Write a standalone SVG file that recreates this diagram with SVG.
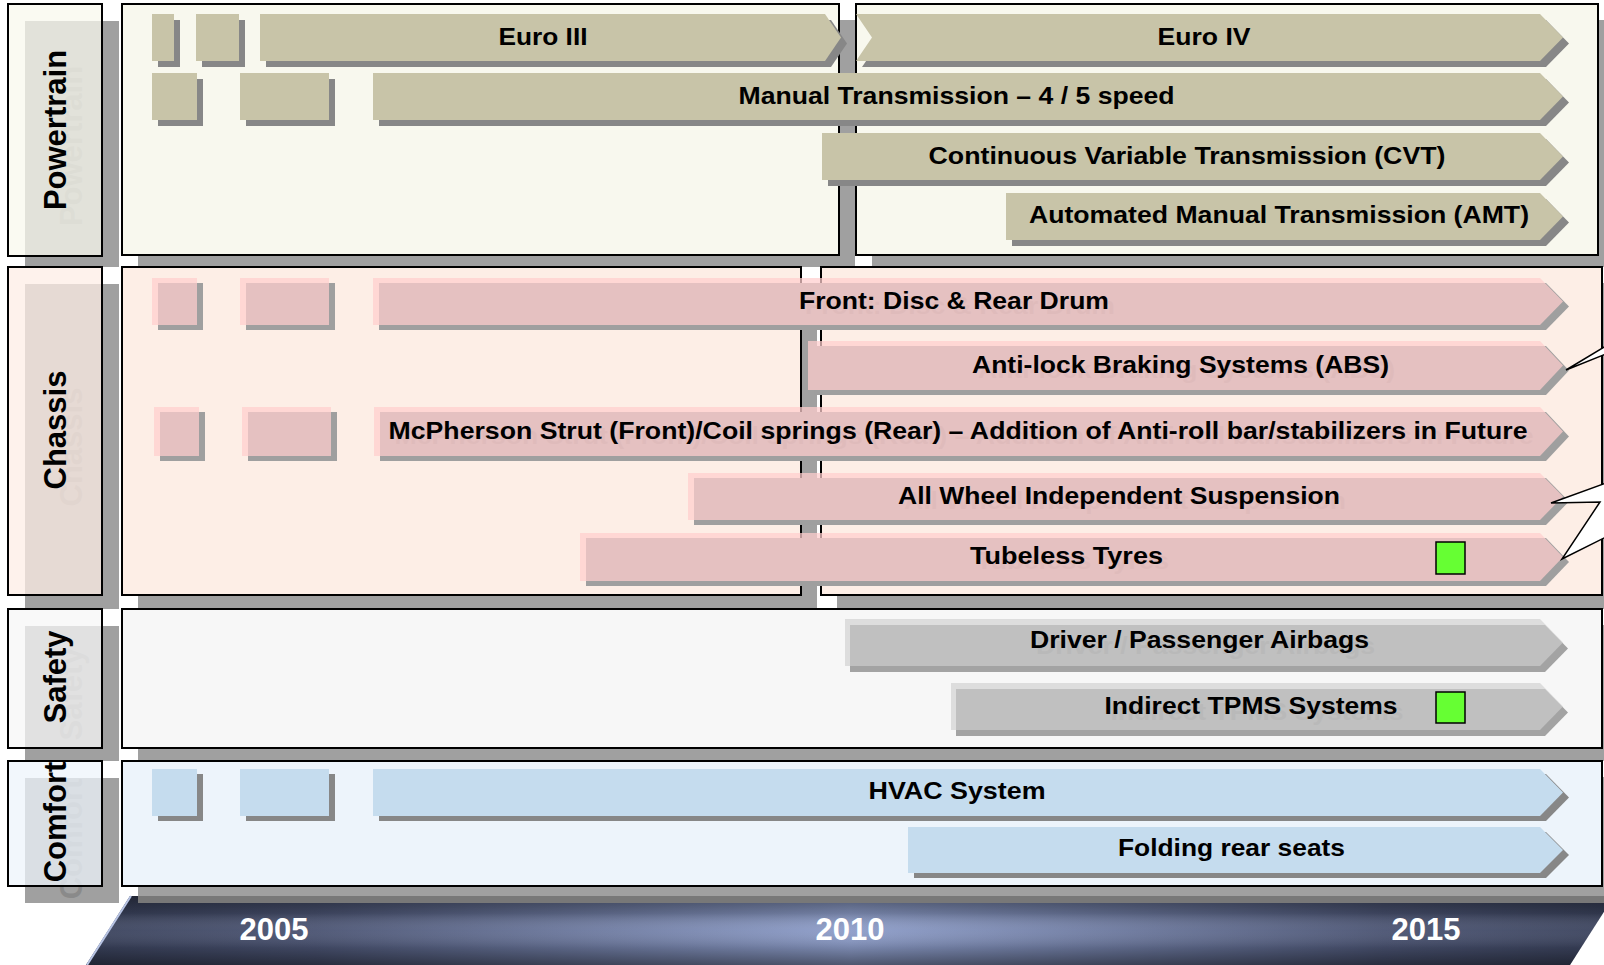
<svg xmlns="http://www.w3.org/2000/svg" width="1604" height="965" viewBox="0 0 1604 965">
  <defs>
    <linearGradient id="tlBase" x1="86" y1="0" x2="1614" y2="0" gradientUnits="userSpaceOnUse">
      <stop offset="0" stop-color="#3a425c"/>
      <stop offset="0.15" stop-color="#4a5372"/>
      <stop offset="0.5" stop-color="#8d9dc9"/>
      <stop offset="0.85" stop-color="#4a5372"/>
      <stop offset="1" stop-color="#3a425c"/>
    </linearGradient>
    <linearGradient id="tlShade" x1="0" y1="896" x2="0" y2="965" gradientUnits="userSpaceOnUse">
      <stop offset="0" stop-color="#000" stop-opacity="0.45"/>
      <stop offset="0.25" stop-color="#000" stop-opacity="0.2"/>
      <stop offset="0.5" stop-color="#fff" stop-opacity="0.05"/>
      <stop offset="0.75" stop-color="#000" stop-opacity="0.15"/>
      <stop offset="1" stop-color="#000" stop-opacity="0.45"/>
    </linearGradient>
  </defs>
  <style>
    text { font-family: "Liberation Sans", Arial, sans-serif; font-weight: bold; }
    .bt { font-size: 24.5px; text-anchor: middle; fill: #000; }
    .lt { font-size: 31px; text-anchor: middle; fill: #000; }
    .yr { font-size: 31px; text-anchor: middle; fill: #fff; }
    .sh { fill: #a0a0a0; }
    .frame { stroke: #000; stroke-width: 2; }
    .p-pt { fill: #f8f8ee; }
    .p-ch { fill: #fdeee6; }
    .p-sf { fill: #f7f7f7; }
    .p-cf { fill: #edf4fb; }
    .lab { fill-opacity: 0.75; }
    .lghost { font-size: 31px; text-anchor: middle; fill: #8a8a8a; }
    /* powertrain bars: solid */
    .b-pt { fill: #c8c4a8; }
    .s-dk { fill: #878787; }
    /* chassis bars: translucent pink */
    .b-ch { fill: #ffcdcd; fill-opacity: 0.73; }
    .s-ch { fill: #9f9f9f; }
    .g-ch { font-size: 24.5px; text-anchor: middle; fill: #8a8a8a; }
    /* safety bars: translucent grey */
    .b-sf { fill: #d0d0d0; fill-opacity: 0.65; }
    .s-sf { fill: #a3a3a3; }
    .g-sf { font-size: 24.5px; text-anchor: middle; fill: #8f8f8f; }
    /* comfort bars: solid */
    .b-cf { fill: #c5dcee; }
    .flag { fill: #66ff33; stroke: #000; stroke-width: 1.5; }
    .callout { fill: #fff; stroke: #000; stroke-width: 1.5; stroke-linejoin: miter; }
  </style>

  <rect width="1604" height="965" fill="#fff"/>

  <!-- timeline band -->
  <g id="timeline">
    <polygon points="130,896 1614,896 1570,965 86,965" fill="url(#tlBase)"/>
    <polygon points="130,896 1614,896 1570,965 86,965" fill="url(#tlShade)"/>
    <line x1="131" y1="896" x2="87" y2="965" stroke="#b8c4e4" stroke-width="2"/>
    <text class="yr" x="274" y="940">2005</text>
    <text class="yr" x="850" y="940">2010</text>
    <text class="yr" x="1426" y="940">2015</text>
  </g>

  <!-- drop shadows of panels and row labels -->
  <g id="shadows">
    <rect class="sh" x="25" y="21" width="94" height="246"/>
    <rect class="sh" x="138" y="20" width="717" height="247"/>
    <rect class="sh" x="872" y="20" width="742" height="247"/>
    <rect class="sh" x="25" y="284" width="94" height="325"/>
    <rect class="sh" x="138" y="283" width="679" height="326"/>
    <rect class="sh" x="837" y="283" width="781" height="326"/>
    <rect class="sh" x="25" y="626" width="94" height="135"/>
    <rect class="sh" x="138" y="625" width="1480" height="136"/>
    <rect class="sh" x="25" y="778" width="94" height="125"/>
    <rect class="sh" x="138" y="777" width="1480" height="119"/>
    <rect x="138" y="896" width="1480" height="7" fill="#787878"/>
  </g>

  <!-- row panels -->
  <g id="panels">
    <rect id="panel-powertrain-a" class="p-pt frame" x="122" y="4" width="717" height="251"/>
    <rect id="panel-powertrain-b" class="p-pt frame" x="856" y="4" width="742" height="251"/>
    <rect id="panel-chassis-a" class="p-ch frame" x="122" y="267" width="679" height="328"/>
    <rect id="panel-chassis-b" class="p-ch frame" x="821" y="267" width="781" height="328"/>
    <rect id="panel-safety" class="p-sf frame" x="122" y="609" width="1480" height="139"/>
    <rect id="panel-comfort" class="p-cf frame" x="122" y="761" width="1480" height="125"/>
  </g>

  <!-- row labels -->
  <g id="label-powertrain">
    <text class="lghost" transform="translate(82,146) rotate(-90)">Powertrain</text>
    <rect class="p-pt lab frame" x="8" y="4" width="94" height="252"/>
    <text class="lt" transform="translate(66,130) rotate(-90)">Powertrain</text>
  </g>
  <g id="label-chassis">
    <text class="lghost" transform="translate(82,447) rotate(-90)">Chassis</text>
    <rect class="p-ch lab frame" x="8" y="267" width="94" height="328"/>
    <text class="lt" transform="translate(66,430) rotate(-90)">Chassis</text>
  </g>
  <g id="label-safety">
    <text class="lghost" transform="translate(82,694) rotate(-90)">Safety</text>
    <rect class="p-sf lab frame" x="8" y="609" width="94" height="139"/>
    <text class="lt" transform="translate(66,677) rotate(-90)">Safety</text>
  </g>
  <g id="label-comfort">
    <text class="lghost" transform="translate(82,839) rotate(-90)">Comfort</text>
    <rect class="p-cf lab frame" x="8" y="761" width="94" height="125"/>
    <text class="lt" transform="translate(66,822) rotate(-90)">Comfort</text>
  </g>

  <!-- powertrain items -->
  <g id="pt-steps-1">
    <rect class="s-dk" x="158" y="20" width="22" height="47"/>
    <rect class="s-dk" x="202" y="20" width="43" height="47"/>
    <rect class="b-pt" x="152" y="14" width="22" height="47"/>
    <rect class="b-pt" x="196" y="14" width="43" height="47"/>
  </g>
  <g id="pt-euro3">
    <path class="s-dk" d="M266 20 H831 L847 43.5 L831 67 H266 Z"/>
    <path class="b-pt" d="M260 14 H825 L841 37.5 L825 61 H260 Z"/>
    <text class="bt" x="543" y="44.5" textLength="89" lengthAdjust="spacingAndGlyphs">Euro III</text>
  </g>
  <g id="pt-euro4">
    <path class="s-dk" d="M862 20 H1546 L1569 43.5 L1546 67 H862 L878 43.5 Z"/>
    <path class="b-pt" d="M856 14 H1540 L1563 37.5 L1540 61 H856 L872 37.5 Z"/>
    <text class="bt" x="1204" y="44.5" textLength="93" lengthAdjust="spacingAndGlyphs">Euro IV</text>
  </g>
  <g id="pt-steps-2">
    <rect class="s-dk" x="158" y="79" width="45" height="47"/>
    <rect class="s-dk" x="246" y="79" width="89" height="47"/>
    <rect class="b-pt" x="152" y="73" width="45" height="47"/>
    <rect class="b-pt" x="240" y="73" width="89" height="47"/>
  </g>
  <g id="pt-manual">
    <path class="s-dk" d="M379 79 H1546 L1569 102.5 L1546 126 H379 Z"/>
    <path class="b-pt" d="M373 73 H1540 L1563 96.5 L1540 120 H373 Z"/>
    <text class="bt" x="956.5" y="104" textLength="436" lengthAdjust="spacingAndGlyphs">Manual Transmission – 4 / 5 speed</text>
  </g>
  <g id="pt-cvt">
    <path class="s-dk" d="M828 139 H1546 L1569 162.5 L1546 186 H828 Z"/>
    <path class="b-pt" d="M822 133 H1540 L1563 156.5 L1540 180 H822 Z"/>
    <text class="bt" x="1187" y="163.5" textLength="517" lengthAdjust="spacingAndGlyphs">Continuous Variable Transmission (CVT)</text>
  </g>
  <g id="pt-amt">
    <path class="s-dk" d="M1012 199 H1546 L1569 222.5 L1546 246 H1012 Z"/>
    <path class="b-pt" d="M1006 193 H1540 L1563 216.5 L1540 240 H1006 Z"/>
    <text class="bt" x="1279" y="223" textLength="500" lengthAdjust="spacingAndGlyphs">Automated Manual Transmission (AMT)</text>
  </g>

  <!-- chassis items -->
  <g id="ch-steps-1">
    <rect class="s-ch" x="158" y="283" width="45" height="47"/>
    <rect class="s-ch" x="246" y="283" width="89" height="47"/>
    <rect class="b-ch" x="152" y="278" width="45" height="47"/>
    <rect class="b-ch" x="240" y="278" width="89" height="47"/>
  </g>
  <g id="ch-brakes">
    <path class="s-ch" d="M379 283 H1546 L1569 306.5 L1546 330 H379 Z"/>
    <text class="g-ch" x="960" y="313.5" textLength="310" lengthAdjust="spacingAndGlyphs">Front: Disc &amp; Rear Drum</text>
    <path class="b-ch" d="M373 278 H1540 L1563 301.5 L1540 325 H373 Z"/>
    <text class="bt" x="954" y="308.5" textLength="310" lengthAdjust="spacingAndGlyphs">Front: Disc &amp; Rear Drum</text>
  </g>
  <g id="ch-abs">
    <path class="s-ch" d="M814 346 H1546 L1569 370.5 L1546 395 H814 Z"/>
    <text class="g-ch" x="1186.5" y="378" textLength="417" lengthAdjust="spacingAndGlyphs">Anti-lock Braking Systems (ABS)</text>
    <path class="b-ch" d="M808 341 H1540 L1563 365.5 L1540 390 H808 Z"/>
    <text class="bt" x="1180.5" y="373" textLength="417" lengthAdjust="spacingAndGlyphs">Anti-lock Braking Systems (ABS)</text>
  </g>
  <g id="ch-steps-2">
    <rect class="s-ch" x="160" y="412" width="45" height="49"/>
    <rect class="s-ch" x="248" y="412" width="89" height="49"/>
    <rect class="b-ch" x="154" y="407" width="45" height="49"/>
    <rect class="b-ch" x="242" y="407" width="89" height="49"/>
  </g>
  <g id="ch-suspension">
    <path class="s-ch" d="M380 412 H1546 L1569 436.5 L1546 461 H380 Z"/>
    <text class="g-ch" x="964" y="444" textLength="1139" lengthAdjust="spacingAndGlyphs">McPherson Strut (Front)/Coil springs (Rear) – Addition of Anti-roll bar/stabilizers in Future</text>
    <path class="b-ch" d="M374 407 H1540 L1563 431.5 L1540 456 H374 Z"/>
    <text class="bt" x="958" y="439" textLength="1139" lengthAdjust="spacingAndGlyphs">McPherson Strut (Front)/Coil springs (Rear) – Addition of Anti-roll bar/stabilizers in Future</text>
  </g>
  <g id="ch-independent">
    <path class="s-ch" d="M694 478 H1546 L1569 501.5 L1546 525 H694 Z"/>
    <text class="g-ch" x="1125" y="508.5" textLength="442" lengthAdjust="spacingAndGlyphs">All Wheel Independent Suspension</text>
    <path class="b-ch" d="M688 473 H1540 L1563 496.5 L1540 520 H688 Z"/>
    <text class="bt" x="1119" y="503.5" textLength="442" lengthAdjust="spacingAndGlyphs">All Wheel Independent Suspension</text>
  </g>
  <g id="ch-tyres">
    <path class="s-ch" d="M586 538 H1546 L1569 562 L1546 586 H586 Z"/>
    <text class="g-ch" x="1072.5" y="569" textLength="193" lengthAdjust="spacingAndGlyphs">Tubeless Tyres</text>
    <path class="b-ch" d="M580 533 H1540 L1563 557 L1540 581 H580 Z"/>
    <text class="bt" x="1066.5" y="564" textLength="193" lengthAdjust="spacingAndGlyphs">Tubeless Tyres</text>
    <rect class="flag" x="1436" y="542" width="29" height="32"/>
  </g>

  <!-- safety items -->
  <g id="sf-airbags">
    <path class="s-sf" d="M850 625 H1545 L1568 648.5 L1545 672 H850 Z"/>
    <text class="g-sf" x="1205.5" y="654" textLength="339" lengthAdjust="spacingAndGlyphs">Driver / Passenger Airbags</text>
    <path class="b-sf" d="M845 619 H1540 L1563 642.5 L1540 666 H845 Z"/>
    <text class="bt" x="1199.5" y="648" textLength="339" lengthAdjust="spacingAndGlyphs">Driver / Passenger Airbags</text>
  </g>
  <g id="sf-tpms">
    <path class="s-sf" d="M956 689 H1545 L1568 712.5 L1545 736 H956 Z"/>
    <text class="g-sf" x="1257" y="719.5" textLength="293" lengthAdjust="spacingAndGlyphs">Indirect TPMS Systems</text>
    <path class="b-sf" d="M951 683 H1540 L1563 706.5 L1540 730 H951 Z"/>
    <text class="bt" x="1251" y="713.5" textLength="293" lengthAdjust="spacingAndGlyphs">Indirect TPMS Systems</text>
    <rect class="flag" x="1436" y="692" width="29" height="31"/>
  </g>

  <!-- comfort items -->
  <g id="cf-steps">
    <rect class="s-dk" x="158" y="774" width="45" height="47"/>
    <rect class="s-dk" x="246" y="774" width="89" height="47"/>
    <rect class="b-cf" x="152" y="769" width="45" height="47"/>
    <rect class="b-cf" x="240" y="769" width="89" height="47"/>
  </g>
  <g id="cf-hvac">
    <path class="s-dk" d="M379 774 H1546 L1569 797.5 L1546 821 H379 Z"/>
    <path class="b-cf" d="M373 769 H1540 L1563 792.5 L1540 816 H373 Z"/>
    <text class="bt" x="957" y="798.5" textLength="177" lengthAdjust="spacingAndGlyphs">HVAC System</text>
  </g>
  <g id="cf-seats">
    <path class="s-dk" d="M914 832 H1546 L1569 855 L1546 878 H914 Z"/>
    <path class="b-cf" d="M908 827 H1540 L1563 850 L1540 873 H908 Z"/>
    <text class="bt" x="1231.5" y="856" textLength="227" lengthAdjust="spacingAndGlyphs">Folding rear seats</text>
  </g>

  <!-- callout pointers entering from the right edge -->
  <g id="callouts">
    <polygon class="callout" points="1606,346 1566,370 1606,354"/>
    <polygon class="callout" points="1606,483 1551,503 1600,502 1562,559 1606,537"/>
  </g>
</svg>
